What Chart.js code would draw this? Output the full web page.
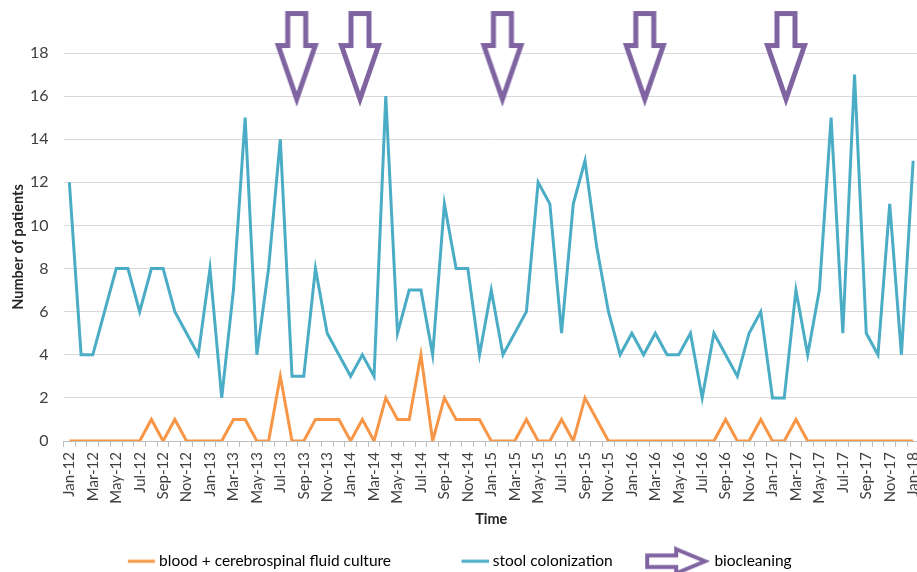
<!DOCTYPE html>
<html>
<head>
<meta charset="utf-8">
<script src="https://cdn.jsdelivr.net/npm/chart.js@4.4.1/dist/chart.umd.min.js"></script>
<style>
  html, body { margin: 0; padding: 0; background: #fff; overflow: hidden; }
  #wrap { width: 930px; height: 572px; }
</style>
</head>
<body>
<div id="wrap"><canvas id="chart" width="930" height="572"></canvas></div>
<script>
// Months, Jan-12 .. Jan-18
const months = [
  'Jan-12','Feb-12','Mar-12','Apr-12','May-12','Jun-12','Jul-12','Aug-12','Sep-12','Oct-12','Nov-12','Dec-12',
  'Jan-13','Feb-13','Mar-13','Apr-13','May-13','Jun-13','Jul-13','Aug-13','Sep-13','Oct-13','Nov-13','Dec-13',
  'Jan-14','Feb-14','Mar-14','Apr-14','May-14','Jun-14','Jul-14','Aug-14','Sep-14','Oct-14','Nov-14','Dec-14',
  'Jan-15','Feb-15','Mar-15','Apr-15','May-15','Jun-15','Jul-15','Aug-15','Sep-15','Oct-15','Nov-15','Dec-15',
  'Jan-16','Feb-16','Mar-16','Apr-16','May-16','Jun-16','Jul-16','Aug-16','Sep-16','Oct-16','Nov-16','Dec-16',
  'Jan-17','Feb-17','Mar-17','Apr-17','May-17','Jun-17','Jul-17','Aug-17','Sep-17','Oct-17','Nov-17','Dec-17',
  'Jan-18'
];

// Number of patients per month
const bloodCsf = [
  0,0,0,0,0,0,0,1,0,1,0,0,
  0,0,1,1,0,0,3,0,0,1,1,1,
  0,1,0,2,1,1,4,0,2,1,1,1,
  0,0,0,1,0,0,1,0,2,1,0,0,
  0,0,0,0,0,0,0,0,1,0,0,1,
  0,0,1,0,0,0,0,0,0,0,0,0,
  0
];
const stool = [
  12,4,4,6,8,8,6,8,8,6,5,4,
  8,2,7,15,4,8,14,3,3,8,5,4,
  3,4,3,16,5,7,7,4,11,8,8,4,
  7,4,5,6,12,11,5,11,13,9,6,4,
  5,4,5,4,4,5,2,5,4,3,5,6,
  2,2,7,4,7,15,5,17,5,4,11,4,
  13
];

// Biocleaning dates, as month positions (0 = Jan-12)
const biocleaning = [19.4, 24.8, 36.95, 49.1, 61.15];

const yTicks = [0, 2, 4, 6, 8, 10, 12, 14, 16, 18];

const ORANGE = '#F79646';
const BLUE = '#4BACC6';
const PURPLE = '#8064A2';
const ARROW_LEVEL = 17.72;

// Outlined block arrow, pointing down
function downArrow() {
  const c = document.createElement('canvas');
  c.width = 46; c.height = 100;
  const g = c.getContext('2d');
  const cx = 23;
  g.beginPath();
  g.moveTo(cx - 9, 4.5);
  g.lineTo(cx + 9, 4.5);
  g.lineTo(cx + 9, 36.5);
  g.lineTo(cx + 18.5, 36.5);
  g.lineTo(cx, 90);
  g.lineTo(cx - 18.5, 36.5);
  g.lineTo(cx - 9, 36.5);
  g.closePath();
  g.fillStyle = '#fff';
  g.fill();
  g.lineWidth = 5;
  g.lineJoin = 'miter';
  g.strokeStyle = PURPLE;
  g.stroke();
  return c;
}

// Same arrow, smaller, pointing right (legend)
function rightArrow() {
  const c = document.createElement('canvas');
  c.width = 71; c.height = 30;
  const g = c.getContext('2d');
  const cy = 15;
  g.beginPath();
  g.moveTo(8, cy - 5.7);
  g.lineTo(37, cy - 5.7);
  g.lineTo(37, cy - 12);
  g.lineTo(66, cy);
  g.lineTo(37, cy + 12);
  g.lineTo(37, cy + 5.7);
  g.lineTo(8, cy + 5.7);
  g.closePath();
  g.fillStyle = '#fff';
  g.fill();
  g.lineWidth = 4;
  g.strokeStyle = PURPLE;
  g.stroke();
  return c;
}

function lineSample(color) {
  const c = document.createElement('canvas');
  c.width = 71; c.height = 30;
  const g = c.getContext('2d');
  g.beginPath();
  g.moveTo(44, 15);
  g.lineTo(71, 15);
  g.lineWidth = 3;
  g.strokeStyle = color;
  g.stroke();
  return c;
}

const legendIcons = [lineSample(ORANGE), lineSample(BLUE), rightArrow()];

// nudge the legend row left, as in the original figure
const legendShift = {
  id: 'legendShift',
  afterLayout(chart) {
    if (chart.legend) chart.legend.right -= 48;
  }
};

const ctx = document.getElementById('chart').getContext('2d');
const chart = new Chart(ctx, {
  type: 'line',
  data: {
    labels: months,
    datasets: [
      { label: 'blood + cerebrospinal fluid culture', data: bloodCsf, borderColor: ORANGE, borderWidth: 3, pointRadius: 0, tension: 0 },
      { label: 'stool colonization', data: stool, borderColor: BLUE, borderWidth: 3, pointRadius: 0, tension: 0 },
      {
        label: 'biocleaning', type: 'scatter', xAxisID: 'xArrow',
        data: biocleaning.map(m => ({ x: m, y: ARROW_LEVEL })),
        pointStyle: downArrow(), pointRadius: 10, clip: false
      }
    ]
  },
  plugins: [legendShift],
  options: {
    responsive: false,
    animation: false,
    layout: { padding: { top: 53, right: 3, left: 0, bottom: 0 } },
    plugins: {
      tooltip: { enabled: false },
      legend: {
        position: 'bottom',
        maxHeight: 48.5,
        labels: {
          usePointStyle: true,
          pointStyleWidth: 64,
          padding: 30,
          color: '#404040',
          font: { family: 'Lato', size: 15.5 },
          generateLabels: (ch) => ch.data.datasets.map((ds, i) => ({
            text: ds.label,
            pointStyle: legendIcons[i],
            fillStyle: 'transparent',
            strokeStyle: 'transparent',
            lineWidth: 0,
            hidden: false,
            datasetIndex: i
          }))
        }
      }
    },
    scales: {
      x: {
        offset: true,
        grid: { offset: true, drawOnChartArea: false, drawTicks: true, tickLength: 6, color: '#BFBFBF' },
        border: { color: '#BFBFBF' },
        ticks: {
          autoSkip: false, maxRotation: 90, minRotation: 90, padding: 5,
          color: '#404040', font: { family: 'Lato', size: 15 },
          callback: (v, i) => (i % 2 === 0 ? months[i] : '')
        },
        title: { display: true, text: 'Time', color: '#262626', font: { family: 'Lato', size: 14.5, weight: 'bold' }, padding: { top: 0, bottom: -5 } },
        afterFit: (s) => { s.height = 82.5; s.paddingLeft = 0; s.paddingRight = 0; }
      },
      xArrow: { type: 'linear', min: -0.5, max: 72.5, display: false },
      y: {
        min: 0, max: 18,
        afterBuildTicks: (s) => { s.ticks = yTicks.map(v => ({ value: v })); },
        grid: { color: '#D9D9D9', drawTicks: false },
        border: { display: false },
        ticks: { padding: 15, color: '#404040', font: { family: 'Lato', size: 16 } },
        title: { display: true, text: 'Number of patients', color: '#262626', font: { family: 'Lato', size: 14.5, weight: 'bold' }, padding: { top: 10, bottom: 0 } },
        afterFit: (s) => { s.width = 63.5; }
      }
    }
  }
});
</script>
</body>
</html>
